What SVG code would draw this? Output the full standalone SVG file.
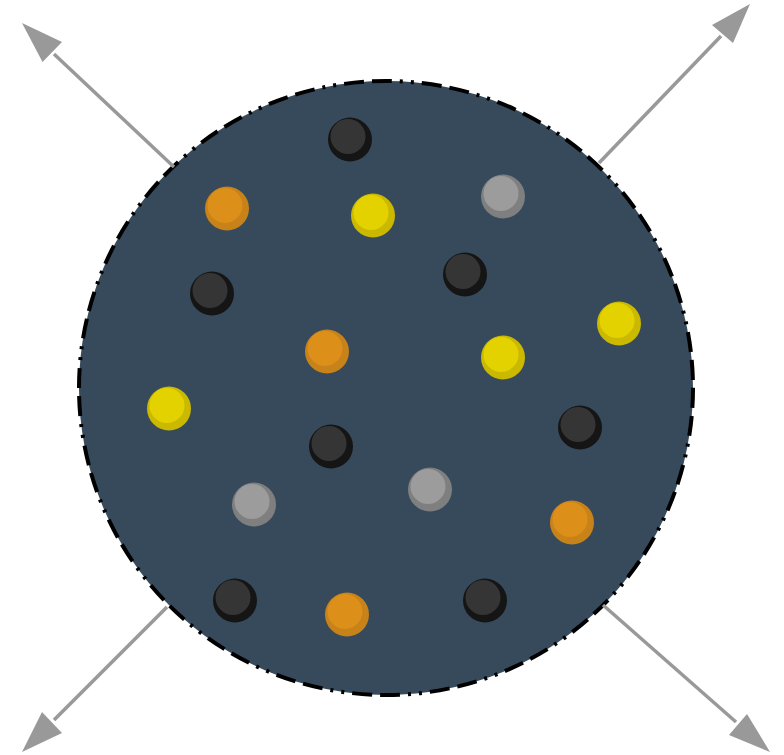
<svg xmlns="http://www.w3.org/2000/svg" width="784" height="755" viewBox="0 0 784 755">
<style>
.arr line{stroke:#999;stroke-width:3.5;fill:none}
.arr polygon{fill:#999}
.a{r:22}
.b{r:17.5}
.o .a{fill:#c8821a}.o .b{fill:#dc8f19}
.k .a{fill:#151515}.k .b{fill:#353535}
.g .a{fill:#7f7f7f}.g .b{fill:#9c9c9c}
.y .a{fill:#cbb900}.y .b{fill:#e3d200}
</style>
<g id="container">
<circle cx="386" cy="388" r="307" fill="#364a5b" stroke="#000" stroke-width="4" stroke-dasharray="20 8 20 8 3 8 3 8"/>
</g>
<g id="balls">
<g id="b1" class="k" transform="translate(349,138)"><circle class="a" cx="1" cy="1.5" r="22"/><circle class="b" cx="-1" cy="-1.5" r="17.5"/></g>
<g id="b2" class="o" transform="translate(226,207)"><circle class="a" cx="1" cy="1.5" r="22"/><circle class="b" cx="-1" cy="-1.5" r="17.5"/></g>
<g id="b3" class="y" transform="translate(372,214)"><circle class="a" cx="1" cy="1.5" r="22"/><circle class="b" cx="-1" cy="-1.5" r="17.5"/></g>
<g id="b4" class="g" transform="translate(502,195)"><circle class="a" cx="1" cy="1.5" r="22"/><circle class="b" cx="-1" cy="-1.5" r="17.5"/></g>
<g id="b5" class="k" transform="translate(211,292)"><circle class="a" cx="1" cy="1.5" r="22"/><circle class="b" cx="-1" cy="-1.5" r="17.5"/></g>
<g id="b6" class="k" transform="translate(464,273)"><circle class="a" cx="1" cy="1.5" r="22"/><circle class="b" cx="-1" cy="-1.5" r="17.5"/></g>
<g id="b7" class="y" transform="translate(618,322)"><circle class="a" cx="1" cy="1.5" r="22"/><circle class="b" cx="-1" cy="-1.5" r="17.5"/></g>
<g id="b8" class="o" transform="translate(326,350)"><circle class="a" cx="1" cy="1.5" r="22"/><circle class="b" cx="-1" cy="-1.5" r="17.5"/></g>
<g id="b9" class="y" transform="translate(502,356)"><circle class="a" cx="1" cy="1.5" r="22"/><circle class="b" cx="-1" cy="-1.5" r="17.5"/></g>
<g id="b10" class="y" transform="translate(168,407)"><circle class="a" cx="1" cy="1.5" r="22"/><circle class="b" cx="-1" cy="-1.5" r="17.5"/></g>
<g id="b11" class="k" transform="translate(579,426)"><circle class="a" cx="1" cy="1.5" r="22"/><circle class="b" cx="-1" cy="-1.5" r="17.5"/></g>
<g id="b12" class="k" transform="translate(330,445)"><circle class="a" cx="1" cy="1.5" r="22"/><circle class="b" cx="-1" cy="-1.5" r="17.5"/></g>
<g id="b13" class="g" transform="translate(253,503)"><circle class="a" cx="1" cy="1.5" r="22"/><circle class="b" cx="-1" cy="-1.5" r="17.5"/></g>
<g id="b14" class="g" transform="translate(429,488)"><circle class="a" cx="1" cy="1.5" r="22"/><circle class="b" cx="-1" cy="-1.5" r="17.5"/></g>
<g id="b15" class="o" transform="translate(571,521)"><circle class="a" cx="1" cy="1.5" r="22"/><circle class="b" cx="-1" cy="-1.5" r="17.5"/></g>
<g id="b16" class="k" transform="translate(234,599)"><circle class="a" cx="1" cy="1.5" r="22"/><circle class="b" cx="-1" cy="-1.5" r="17.5"/></g>
<g id="b17" class="o" transform="translate(346,613)"><circle class="a" cx="1" cy="1.5" r="22"/><circle class="b" cx="-1" cy="-1.5" r="17.5"/></g>
<g id="b18" class="k" transform="translate(484,599)"><circle class="a" cx="1" cy="1.5" r="22"/><circle class="b" cx="-1" cy="-1.5" r="17.5"/></g>
</g>
<g id="connectors" class="arr">
<line x1="174" y1="167" x2="54" y2="54"/>
<polygon points="22,23 42.5,62 62,42"/>
<line x1="599" y1="163" x2="721" y2="36"/>
<polygon points="750,4 712,25 733,43"/>
<line x1="167" y1="607" x2="54" y2="720"/>
<polygon points="22,752 42,712 62,733"/>
<line x1="603" y1="605" x2="736" y2="722"/>
<polygon points="770,752 729,735 747,714"/>
</g>
</svg>
